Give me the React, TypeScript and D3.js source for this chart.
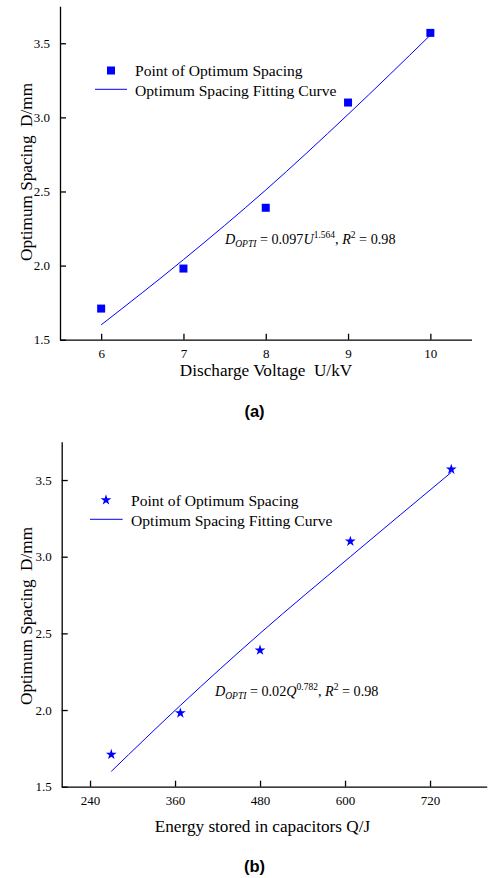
import { useEffect, useRef } from 'react'
import * as d3 from 'd3'

// panel (a): discharge voltage vs optimum spacing
const voltage = [6, 7, 8, 9, 10]
const spacingA = [1.71, 1.98, 2.39, 3.1, 3.57]
const fitA = [1.6, 2.04, 2.51, 3.02, 3.555]
const voltageTicks = [6, 7, 8, 9, 10]

// panel (b): energy stored vs optimum spacing
const energy = [270, 367.5, 480, 607.5, 750]
const spacingB = [1.71, 1.98, 2.39, 3.1, 3.57]
const fitB = [1.6, 2.03, 2.5, 3.0, 3.55]
const energyTicks = [240, 360, 480, 600, 720]

const spacingTicks = [1.5, 2.0, 2.5, 3.0, 3.5]

const W = 488
const H = 878
const BLUE = '#0000ff'
const SERIF = '"Liberation Serif", "Times New Roman", serif'
const SANS = '"Liberation Sans", Arial, sans-serif'

interface PanelOpts {
  xs: number[]
  ys: number[]
  fit: number[]
  xDomain: [number, number]
  xRange: [number, number]
  yRange: [number, number]
  xTicks: number[]
  xTitle: string
  xTitleX: number
  xTitleY: number
  yTitleX: number
  yTitleY: number
  symbol: d3.SymbolType
  symbolSize: number
  legend: { mx: number; my: number; lx0: number; lx1: number; ly: number; tx: number; t1: number; t2: number }
  eq: { x: number; y: number; coef: string; v: string; exp: string }
  label: string
  labelY: number
}

const App = () => {
  const svgRef = useRef<SVGSVGElement | null>(null)

  useEffect(() => {
    if (!svgRef.current) return
    const svg = d3.select(svgRef.current)
    svg.selectAll('*').remove()

    const drawPanel = (o: PanelOpts) => {
      const x = d3.scaleLinear().domain(o.xDomain).range(o.xRange)
      const y = d3.scaleLinear().domain([1.5, 3.75]).range(o.yRange)
      const g = svg.append('g')

      // axes, ticks pointing inward
      const xAxis = d3.axisBottom(x).tickValues(o.xTicks).tickSizeInner(-6).tickSizeOuter(0).tickPadding(9).tickFormat(d3.format('d'))
      const yAxis = d3.axisLeft(y).tickValues(spacingTicks).tickSizeInner(-6).tickSizeOuter(0).tickPadding(10).tickFormat(d3.format('.1f'))

      const gx = g.append('g').attr('transform', `translate(0,${o.yRange[0]})`).call(xAxis)
      const gy = g.append('g').attr('transform', `translate(${o.xRange[0]},0)`).call(yAxis)
      for (const a of [gx, gy]) {
        a.attr('font-family', SERIF).attr('font-size', 13)
        a.selectAll('path').attr('stroke', '#000').attr('stroke-width', 1.3)
        a.selectAll('line').attr('stroke', '#000').attr('stroke-width', 1.3)
        a.selectAll('text').attr('fill', '#000').attr('font-family', SERIF).attr('font-size', 13)
      }

      // fitting curve
      const line = d3
        .line<number>()
        .x((_, i) => x(o.xs[i]))
        .y((d) => y(d))
        .curve(d3.curveMonotoneX)
      g.append('path').datum(o.fit).attr('fill', 'none').attr('stroke', BLUE).attr('stroke-width', 1).attr('d', line)

      // points
      const sym = d3.symbol().type(o.symbol).size(o.symbolSize)
      g.selectAll('.pt')
        .data(o.ys)
        .join('path')
        .attr('class', 'pt')
        .attr('transform', (d, i) => `translate(${x(o.xs[i])},${y(d)})`)
        .attr('d', sym()!)
        .attr('fill', BLUE)

      // legend
      const L = o.legend
      g.append('path').attr('transform', `translate(${L.mx},${L.my})`).attr('d', sym()!).attr('fill', BLUE)
      g.append('line').attr('x1', L.lx0).attr('x2', L.lx1).attr('y1', L.ly).attr('y2', L.ly).attr('stroke', BLUE).attr('stroke-width', 1)
      g.append('text').attr('x', L.tx).attr('y', L.t1).attr('font-family', SERIF).attr('font-size', 15.6).text('Point of Optimum Spacing')
      g.append('text').attr('x', L.tx).attr('y', L.t2).attr('font-family', SERIF).attr('font-size', 15.6).text('Optimum Spacing Fitting Curve')

      // fit equation
      const eq = g.append('text').attr('x', o.eq.x).attr('y', o.eq.y).attr('font-family', SERIF).attr('font-size', 14.2)
      eq.append('tspan').attr('font-style', 'italic').text('D')
      eq.append('tspan').attr('font-style', 'italic').attr('font-size', 9.5).attr('dy', 3).text('OPTI')
      eq.append('tspan').attr('dy', -3).style('white-space', 'pre').text(` = ${o.eq.coef}`)
      eq.append('tspan').attr('font-style', 'italic').text(o.eq.v)
      eq.append('tspan').attr('font-size', 9.5).attr('dy', -6).text(o.eq.exp)
      eq.append('tspan').attr('dy', 6).text(', ')
      eq.append('tspan').attr('font-style', 'italic').text('R')
      eq.append('tspan').attr('font-size', 9.5).attr('dy', -6).text('2')
      eq.append('tspan').attr('dy', 6).style('white-space', 'pre').text(' = 0.98')

      // axis titles
      g.append('text')
        .attr('x', o.xTitleX)
        .attr('y', o.xTitleY)
        .attr('text-anchor', 'middle')
        .attr('font-family', SERIF)
        .attr('font-size', 17.2)
        .style('white-space', 'pre')
        .text(o.xTitle)
      g.append('text')
        .attr('transform', `translate(${o.yTitleX},${o.yTitleY}) rotate(-90)`)
        .attr('text-anchor', 'middle')
        .attr('font-family', SERIF)
        .attr('font-size', 17.2)
        .style('white-space', 'pre')
        .text('Optimum Spacing  D/mm')

      // panel label
      g.append('text')
        .attr('x', 254.5)
        .attr('y', o.labelY)
        .attr('text-anchor', 'middle')
        .attr('font-family', SANS)
        .attr('font-weight', 'bold')
        .attr('font-size', 16.5)
        .text(o.label)
    }

    drawPanel({
      xs: voltage,
      ys: spacingA,
      fit: fitA,
      xDomain: [5.5, 10.5],
      xRange: [60, 471.5],
      yRange: [339.7, 6.2],
      xTicks: voltageTicks,
      xTitle: 'Discharge Voltage  U/kV',
      xTitleX: 266,
      xTitleY: 376,
      yTitleX: 31.5,
      yTitleY: 172,
      symbol: d3.symbolSquare,
      symbolSize: 64,
      legend: { mx: 111, my: 70.5, lx0: 95, lx1: 127, ly: 89.3, tx: 135, t1: 75.8, t2: 96 },
      eq: { x: 225, y: 243.5, coef: '0.097', v: 'U', exp: '1.564' },
      label: '(a)',
      labelY: 417,
    })

    drawPanel({
      xs: energy,
      ys: spacingB,
      fit: fitB,
      xDomain: [200, 800],
      xRange: [61.7, 486.7],
      yRange: [786.7, 441.7],
      xTicks: energyTicks,
      xTitle: 'Energy stored in capacitors Q/J',
      xTitleX: 262.5,
      xTitleY: 831.5,
      yTitleX: 32,
      yTitleY: 616,
      symbol: d3.symbolStar,
      symbolSize: 36,
      legend: { mx: 106, my: 500, lx0: 90, lx1: 122.7, ly: 519.3, tx: 131, t1: 505.7, t2: 526 },
      eq: { x: 215, y: 695.5, coef: '0.02', v: 'Q', exp: '0.782' },
      label: '(b)',
      labelY: 872,
    })
  }, [])

  return (
    <svg
      ref={svgRef}
      width={W}
      height={H}
      style={{ position: 'absolute', left: 0, top: 0, background: '#fff' }}
    ></svg>
  )
}

export default App
